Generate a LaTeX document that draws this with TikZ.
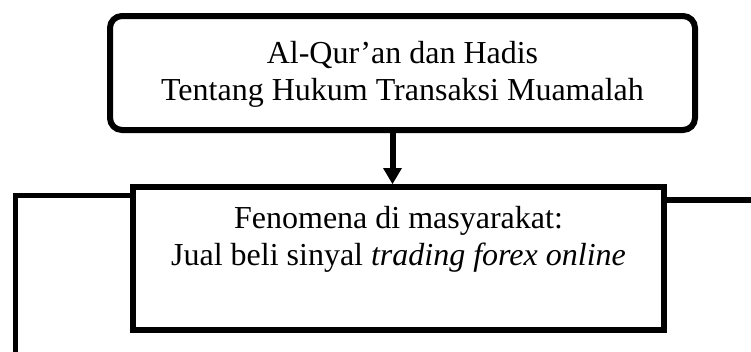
\documentclass[tikz,border=0pt]{standalone}
\usepackage{fontspec}
\setmainfont{Liberation Serif}
\usetikzlibrary{arrows.meta}
\begin{document}
\begin{tikzpicture}[x=1pt,y=-1pt,
  boxstyle/.style={draw=black, line width=6pt, align=center,
    font=\fontsize{32}{37}\selectfont, inner sep=0pt, text height=59pt},
  sideline/.style={draw=black, line width=5.5pt},
  arrowline/.style={draw=black, line width=6pt,
    -{Triangle[width=19pt,length=16pt,line width=0pt]}}]
\useasboundingbox[fill=white] (0,0) rectangle (751,351);
\node[boxstyle, rounded corners=12pt, minimum width=585pt, minimum height=114pt,
  text depth=5pt] (top) at (402.5,73)
  {Al-Qur’an dan Hadis\\Tentang Hukum Transaksi Muamalah};
\node[boxstyle, minimum width=531pt, minimum height=143pt,
  text depth=46pt] (bot) at (398.5,258.5)
  {Fenomena di masyarakat:\\Jual beli sinyal \textit{trading forex online}};
\coordinate (ax) at (392.5,150);
\draw[arrowline] (top.south -| ax) -- (bot.north -| ax);
\coordinate (lb) at (15.5,360);
\coordinate (ly) at (0,195.5);
\coordinate (ry) at (760,200);
\draw[sideline] (lb) |- (bot.west |- ly);
\draw[sideline] (bot.east |- ry) -- (ry);
\end{tikzpicture}
\end{document}
